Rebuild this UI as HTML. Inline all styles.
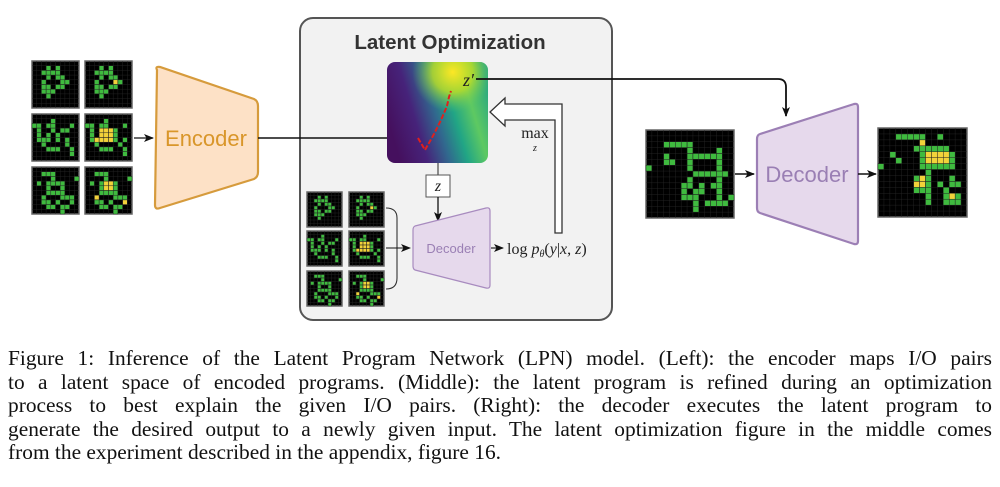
<!DOCTYPE html>
<html><head><meta charset="utf-8">
<style>
html,body{margin:0;padding:0;background:#fff;width:1000px;height:487px;overflow:hidden}
svg{position:absolute;left:0;top:0}
.cap{position:absolute;left:8px;top:347px;width:984px;font-family:"Liberation Serif",serif;font-size:21.4px;line-height:23.5px;color:#111}
.cap div{text-align:justify;text-align-last:justify;white-space:nowrap}
.cap div.last{text-align-last:left}
</style></head><body>
<svg width="1000" height="487" viewBox="0 0 1000 487" xmlns="http://www.w3.org/2000/svg">
<defs>
<marker id="ah" markerWidth="10" markerHeight="10" refX="9" refY="5" orient="auto" markerUnits="userSpaceOnUse"><path d="M0,1 L10,5 L0,9 L2.5,5 Z" fill="#111"/></marker>
<linearGradient id="hg" x1="0" y1="0.55" x2="1" y2="0.25">
<stop offset="0" stop-color="#45105e"/><stop offset="0.25" stop-color="#46237a"/><stop offset="0.45" stop-color="#31688e"/><stop offset="0.62" stop-color="#21a585"/><stop offset="0.8" stop-color="#5ec962"/><stop offset="1" stop-color="#2aa880"/></linearGradient>
<radialGradient id="hy" cx="0.65" cy="0.1" r="0.4"><stop offset="0" stop-color="#fde725"/><stop offset="0.5" stop-color="#c2df23" stop-opacity="0.8"/><stop offset="1" stop-color="#5ec962" stop-opacity="0"/></radialGradient>
<clipPath id="hc"><rect x="387" y="62" width="101" height="101" rx="8"/></clipPath>
</defs>
<rect x="300" y="18" width="312" height="302" rx="13" fill="#f2f2f2" stroke="#555" stroke-width="2"/>
<text x="450" y="49" text-anchor="middle" font-family="Liberation Sans,sans-serif" font-weight="bold" font-size="20.5" fill="#333">Latent Optimization</text>
<path d="M157,70 Q155,66 160,67 L254,99 Q258,101 258,106 L258,172 Q258,177 254,179 L160,208 Q155,210 155,205 Z" fill="#fde1c6" stroke="#d69b3c" stroke-width="2.2"/>
<text x="206" y="146" text-anchor="middle" font-family="Liberation Sans,sans-serif" font-size="22" fill="#d9962a">Encoder</text>
<line x1="134" y1="138" x2="153" y2="138" stroke="#111" stroke-width="1.3" marker-end="url(#ah)"/>
<line x1="258" y1="138" x2="404" y2="138" stroke="#111" stroke-width="1.6" marker-end="url(#ah)"/>
<g clip-path="url(#hc)">
<rect x="387" y="62" width="101" height="101" fill="url(#hg)"/>
<rect x="387" y="62" width="101" height="101" fill="url(#hy)"/>
</g>
<polyline points="418,138 425,150 434,134 441,120 447,106 449,97 451,91" fill="none" stroke="#e0201c" stroke-width="2" stroke-dasharray="5,2"/>
<text x="463" y="86" font-family="Liberation Serif,serif" font-style="italic" font-size="18" fill="#222">z′</text>
<path d="M476,79 L778,79 Q786,79 786,87 L786,116" fill="none" stroke="#111" stroke-width="1.8" marker-end="url(#ah)"/>
<path d="M562,233 L562,104 L505,104 L505,98 L490,112 L505,126 L505,120 L555,120 L555,233 Z" fill="#fff" stroke="#333" stroke-width="1.3"/>
<text x="535" y="138" text-anchor="middle" font-family="Liberation Serif,serif" font-size="16" fill="#222">max</text>
<text x="535" y="151" text-anchor="middle" font-family="Liberation Serif,serif" font-style="italic" font-size="10" fill="#222">z</text>
<line x1="438" y1="163" x2="438" y2="175" stroke="#555" stroke-width="1.3"/>
<rect x="426" y="175" width="24" height="22" fill="#fff" stroke="#555" stroke-width="1"/>
<text x="438" y="191" text-anchor="middle" font-family="Liberation Serif,serif" font-style="italic" font-size="16" fill="#222">z</text>
<line x1="438" y1="197" x2="438" y2="221" stroke="#111" stroke-width="1.3" marker-end="url(#ah)"/>
<path d="M415,226 L486,208 Q490,207 490,211 L490,285 Q490,289 486,288 L415,270 Q413,269 413,266 L413,230 Q413,227 415,226 Z" fill="#e6d9ec" stroke="#a88bbf" stroke-width="1.2"/>
<text x="451" y="253" text-anchor="middle" font-family="Liberation Sans,sans-serif" font-size="13" fill="#9a7fb4">Decoder</text>
<path d="M386,208 Q397,208 397,218 L397,278 Q397,289 386,289" fill="none" stroke="#333" stroke-width="1.1"/>
<line x1="386" y1="248" x2="410" y2="248" stroke="#111" stroke-width="1.1" marker-end="url(#ah)"/>
<line x1="491" y1="248" x2="503" y2="248" stroke="#111" stroke-width="1.1" marker-end="url(#ah)"/>
<text x="507" y="254" font-family="Liberation Serif,serif" font-size="16" fill="#222">log <tspan font-style="italic">p</tspan><tspan font-size="10" font-style="italic" dy="3">θ</tspan><tspan dy="-3">(</tspan><tspan font-style="italic">y</tspan>|<tspan font-style="italic">x</tspan>, <tspan font-style="italic">z</tspan>)</text>
<path d="M760,134 L854,104 Q858,103 858,107 L858,241 Q858,245 854,244 L760,213 Q757,212 757,208 L757,139 Q757,135 760,134 Z" fill="#e6d9ec" stroke="#9c7fb5" stroke-width="2.2"/>
<text x="807" y="182" text-anchor="middle" font-family="Liberation Sans,sans-serif" font-size="22" fill="#9a7fb4">Decoder</text>
<line x1="735" y1="174" x2="754" y2="174" stroke="#111" stroke-width="1.6" marker-end="url(#ah)"/>
<line x1="858" y1="174" x2="876" y2="174" stroke="#111" stroke-width="1.6" marker-end="url(#ah)"/>
<g id="grids"></g>
</svg>
<div class="cap">
<div>Figure 1: Inference of the Latent Program Network (LPN) model. (Left): the encoder maps I/O pairs</div>
<div>to a latent space of encoded programs. (Middle): the latent program is refined during an optimization</div>
<div>process to best explain the given I/O pairs. (Right): the decoder executes the latent program to</div>
<div>generate the desired output to a newly given input. The latent optimization figure in the middle comes</div>
<div class="last">from the experiment described in the appendix, figure 16.</div>
</div>
<script>
var P={
a:["..........","...g.g....","..gggg....","...g.gg...","..g...gg..","..gg.gg...","..ggg.....","...g......","..........",".........."],
ay:["..........","...g.g....","..gggg....","...g.gg...","..g...yg..","..gg.gg...","..ggg.....","...g......","..........",".........."],
b:["..........","....g.....","gg.gg...g.",".g..g.gg..",".g.g.g....",".ggg.g.g..","..g....g..","...ggg..g.","........g.",".........."],
by:["..........","....g.....","gg.gg...g.",".g.yyyg...",".g.yyyg...",".gyyyyg.g.","..g....g..","...ggg..g.","........g.",".........."],
c:["..........","..ggg.....","....g....g",".g.gggg...","...g..g...","...gggg...","..g...ggg.","..gg.g..g.","...gg.gg..","......g..."],
cy:["..........","..ggg.....","....g....g",".g.gyyg...","...gyyg...","...gggg...","..y...ggg.","..gg.g..y.","...gg.gg..","......g..."],
r:["...............","...............","...ggggg.......",".......g....g..","...g...gggggg..","...gg..g....g..","g......g....g..","........gggggg.",".......g....g..","......gg.g.gg..","......g.gg..g..","......ggg...g.g","........g.gggg.","........g......","..............."],
ry:["...............","...ggggg..g....",".......y.......","......gggggg...","..g....gyyyyg..","...g...gyyyyg..","g......gggggg..","........g......","......gyg...g..","......yyg.g.gg.","......ggg..g...","........g..gyg.","........g..ggg.","...............","..............."]
};
function grid(x,y,s,pat,n){var cs=s/n,h='<rect x="'+x+'" y="'+y+'" width="'+s+'" height="'+s+'" fill="#000" stroke="#666" stroke-width="1.5"/>';
for(var i=0;i<n;i++)for(var j=0;j<n;j++){var ch=(pat[i]||"")[j];if(ch=='g'||ch=='y'){h+='<rect x="'+(x+j*cs)+'" y="'+(y+i*cs)+'" width="'+cs+'" height="'+cs+'" fill="'+(ch=='g'?'#3fba3f':'#f2d23a')+'" stroke="#111" stroke-width="0.3"/>';}}
for(var k=1;k<n;k++){h+='<line x1="'+(x+k*cs)+'" y1="'+y+'" x2="'+(x+k*cs)+'" y2="'+(y+s)+'" stroke="#2a2a2a" stroke-width="0.4"/><line x1="'+x+'" y1="'+(y+k*cs)+'" x2="'+(x+s)+'" y2="'+(y+k*cs)+'" stroke="#2a2a2a" stroke-width="0.4"/>';}
return h;}
var h='';
h+=grid(32,61,47,P.a,10)+grid(85,61,47,P.ay,10);
h+=grid(32,114,47,P.b,10)+grid(85,114,47,P.by,10);
h+=grid(32,167,47,P.c,10)+grid(85,167,47,P.cy,10);
h+=grid(307,192,35,P.a,10)+grid(349,192,35,P.ay,10);
h+=grid(307,231,35,P.b,10)+grid(349,231,35,P.by,10);
h+=grid(307,271,35,P.c,10)+grid(349,271,35,P.cy,10);
h+=grid(646,130,88,P.r,15)+grid(878,128,89,P.ry,15);
document.getElementById('grids').innerHTML=h;
</script>
</body></html>
